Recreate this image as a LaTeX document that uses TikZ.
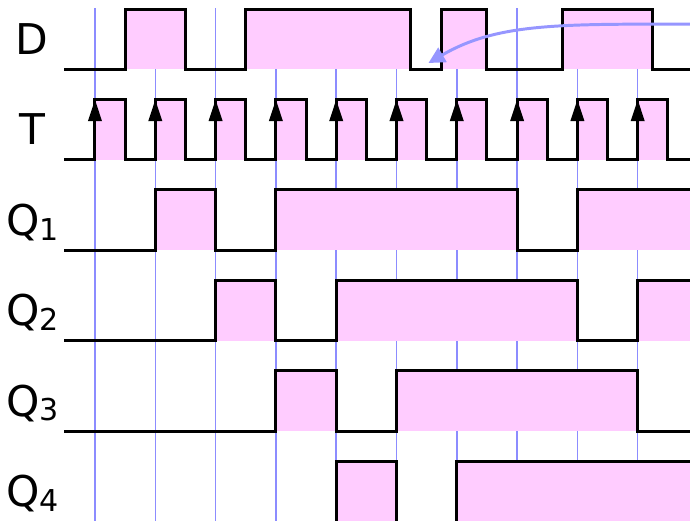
\documentclass[tikz,border=0pt]{standalone}
\usepackage{fontspec}
\setmainfont{DejaVu Sans}
\usetikzlibrary{arrows.meta}

\definecolor{gridblue}{RGB}{140,140,255}
\definecolor{arrowblue}{RGB}{150,150,255}
\definecolor{highpink}{RGB}{255,204,255}

\newcommand{\qsub}[1]{\raisebox{-0.08cm}{\fontsize{14.2}{14}\selectfont #1}}

\begin{document}
\begin{tikzpicture}[x=1cm, y=-1cm,
  wave/.style={line width=1.4pt},
  hifill/.style={fill=highpink},
  gridline/.style={draw=gridblue, line width=0.7pt},
  siglabel/.style={anchor=base, inner sep=0pt, font=\fontsize{20}{24}\selectfont},
  clockarrow/.style={wave, -{Triangle[length=0.36cm, width=0.22cm]}},
  notearrow/.style={draw=arrowblue, line width=1.4pt, -{Triangle[length=0.27cm, width=0.27cm]}}]

\clip (-1.575,0) rectangle (9.867,8.624);

% clock edges
\foreach \k in {0,...,9}
  \draw[gridline] (\k,0.14) -- (\k,8.7);

% high levels
\foreach \a/\b in {0.5/1.5, 2.5/5.24, 5.75/6.5, 7.75/9.25}
  \fill[hifill] (\a,0.15) rectangle (\b,1.15);
\foreach \k in {0,...,9}
  \fill[hifill] (\k,1.65) rectangle (\k+0.5,2.65);
\foreach \a/\b in {1/2, 3/7, 8/9.9}
  \fill[hifill] (\a,3.15) rectangle (\b,4.15);
\foreach \a/\b in {2/3, 4/8, 9/9.9}
  \fill[hifill] (\a,4.65) rectangle (\b,5.65);
\foreach \a/\b in {3/4, 5/9}
  \fill[hifill] (\a,6.15) rectangle (\b,7.15);
\foreach \a/\b in {4/5, 6/9.9}
  \fill[hifill] (\a,7.65) rectangle (\b,8.7);

% waveforms
\draw[wave] (-0.51,1.15) -| (0.5,0.15) -| (1.5,1.15) -| (2.5,0.15) -| (5.24,1.15)
  -| (5.75,0.15) -| (6.5,1.15) -| (7.75,0.15) -| (9.25,1.15) -- (9.9,1.15);
\draw[wave] (-0.51,2.65) foreach \k in {0,...,9} { -| (\k,1.65) -| (\k+0.5,2.65) } -- (9.9,2.65);
\draw[wave] (-0.51,4.15) -| (1,3.15) -| (2,4.15) -| (3,3.15) -| (7,4.15) -| (8,3.15) -- (9.9,3.15);
\draw[wave] (-0.51,5.65) -| (2,4.65) -| (3,5.65) -| (4,4.65) -| (8,5.65) -| (9,4.65) -- (9.9,4.65);
\draw[wave] (-0.51,7.15) -| (3,6.15) -| (4,7.15) -| (5,6.15) -| (9,7.15) -- (9.9,7.15);
\draw[wave] (-0.51,8.7) -| (4,7.65) -| (5,8.7) -| (6,7.65) -- (9.9,7.65);

\foreach \k in {0,...,9}
  \draw[clockarrow] (\k,2.65) -- (\k,1.65);

% labels
\node[siglabel] (labelD) at (-1.04,0.91) {D};
\node[siglabel] (labelT) at (-1.04,2.39) {T};
\node[siglabel] (labelQ1) at (-1.04,3.90) {Q\qsub{1}};
\node[siglabel] (labelQ2) at (-1.04,5.40) {Q\qsub{2}};
\node[siglabel] (labelQ3) at (-1.04,6.90) {Q\qsub{3}};
\node[siglabel] (labelQ4) at (-1.04,8.40) {Q\qsub{4}};

\coordinate (notestart) at (9.87,0.40);
\coordinate (notetip) at (5.53,1.045);
\draw[notearrow] (notestart) .. controls (7.71,0.40) and (6.67,0.38) .. (notetip);

\end{tikzpicture}
\end{document}
